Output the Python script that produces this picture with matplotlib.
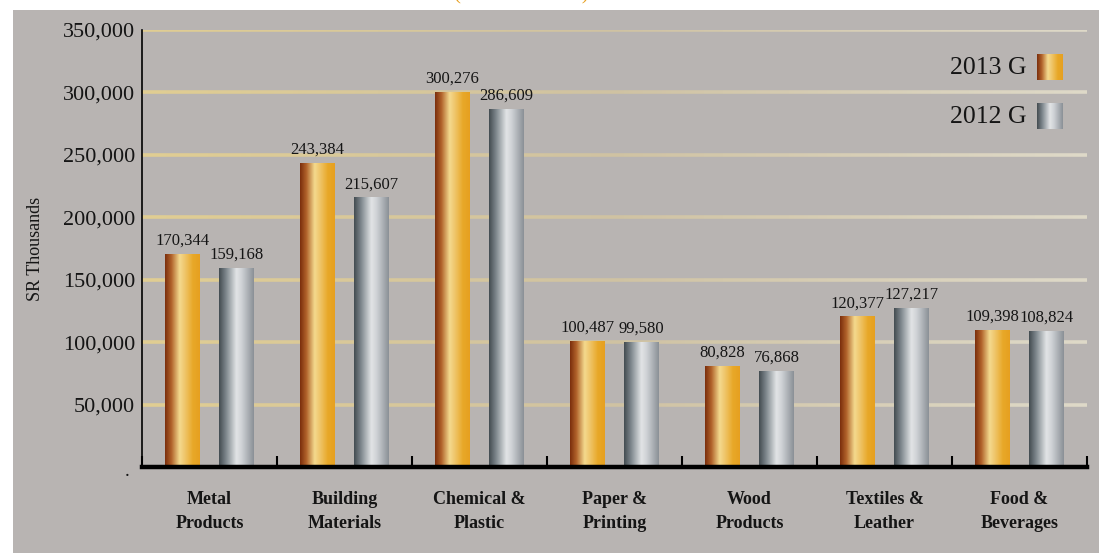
import numpy as np
import matplotlib
matplotlib.use("Agg")
import matplotlib.pyplot as plt
from matplotlib.colors import LinearSegmentedColormap
from matplotlib.collections import LineCollection

categories = ["Metal\nProducts", "Building\nMaterials", "Chemical &\nPlastic", "Paper &\nPrinting",
              "Wood\nProducts", "Textiles &\nLeather", "Food &\nBeverages"]
values_2013 = [170344, 243384, 300276, 100487, 80828, 120377, 109398]
values_2012 = [159168, 215607, 286609, 99580, 76868, 127217, 108824]
series_names = ["2013 G", "2012 G"]
ytick_values = [50000, 100000, 150000, 200000, 250000, 300000, 350000]

BG = "#b8b4b2"
SERIF = ["Liberation Serif", "DejaVu Serif"]

gold_cmap = LinearSegmentedColormap.from_list(
    "gold", [(0, "#7a2e0c"), (0.18, "#b0612a"), (0.42, "#f4da8e"), (0.55, "#f0c870"), (0.8, "#e8a828"), (1, "#e6a020")])
silver_cmap = LinearSegmentedColormap.from_list(
    "silver", [(0, "#434b50"), (0.2, "#7d868c"), (0.5, "#e2e4e6"), (0.65, "#cfd2d6"), (1, "#8a9096")])
grid_cmap = LinearSegmentedColormap.from_list(
    "grid", [(0, "#e0cd92"), (0.5, "#cfc2a2"), (1, "#ded9c8")])

W, H = 1099, 553
fig = plt.figure(figsize=(W / 100, H / 100), dpi=100, facecolor="white")
# gray panel
panel = plt.Rectangle((13 / W, 0), 1 - 13 / W, (H - 10) / H, transform=fig.transFigure,
                      facecolor=BG, edgecolor="none", zorder=-10)
fig.add_artist(panel)

ax = fig.add_axes([142 / W, (H - 467) / H, 945 / W, 437 / H])
ax.set_facecolor("none")
ax.set_xlim(-0.5, len(categories) - 0.5)
ax.set_ylim(0, 350000)

x = np.arange(len(categories))
bw = 0.252
off = 0.2

grad = np.linspace(0, 1, 256).reshape(1, -1)
bars13 = ax.bar(x - off, values_2013, bw, color="none", zorder=3)
bars12 = ax.bar(x + off, values_2012, bw, color="none", zorder=3)
for bars, cmap in ((bars13, gold_cmap), (bars12, silver_cmap)):
    for b in bars:
        x0, y0, w, h = b.get_x(), b.get_y(), b.get_width(), b.get_height()
        ax.imshow(grad, cmap=cmap, extent=(x0, x0 + w, y0, y0 + h), aspect="auto", zorder=3,
                  interpolation="bilinear")
for bars, vals in ((bars13, values_2013), (bars12, values_2012)):
    for b, v in zip(bars, vals):
        ax.annotate(f"{v:,}", (b.get_x() + b.get_width() / 2, v), xytext=(0, 4), textcoords="offset points",
                    ha="center", va="bottom", fontsize=12, family=SERIF, color="#151515", zorder=5)
ax.set_xlim(-0.5, len(categories) - 0.5)
ax.set_ylim(0, 350000)

# gradient gridlines
n = 200
xs = np.linspace(-0.5, len(categories) - 0.5, n + 1)
for yv in ytick_values:
    segs = [[(xs[i], yv), (xs[i + 1], yv)] for i in range(n)]
    lc = LineCollection(segs, colors=grid_cmap(np.linspace(0, 1, n)), linewidths=2.6, zorder=1,
                        capstyle="butt")
    ax.add_collection(lc)

for s in ["top", "right"]:
    ax.spines[s].set_visible(False)
ax.spines["left"].set_linewidth(1.2)
ax.spines["left"].set_color("black")
ax.spines["bottom"].set_linewidth(3.2)
ax.spines["bottom"].set_color("black")
ax.spines["left"].set_zorder(6)
ax.spines["bottom"].set_zorder(6)

ax.set_yticks(ytick_values)
ax.set_yticklabels([f"{v:,}" for v in ytick_values], family=SERIF, fontsize=16, color="#151515")
ax.tick_params(axis="y", length=0, pad=5)
ax.set_xticks(x)
ax.set_xticklabels(categories, family=SERIF, fontsize=13, fontweight="bold", color="#151515",
                   linespacing=1.6)
ax.tick_params(axis="x", length=0, pad=17)
# category boundary ticks (upward)
bounds = np.arange(len(categories) + 1) - 0.5
ax.vlines(bounds, 0, 9000, colors="black", linewidth=1.5, zorder=6, clip_on=False)

ax.text(-0.61, -3500, ".", ha="center", va="center", fontsize=14, family=SERIF, color="#151515")
ax.set_ylabel("SR Thousands", family=SERIF, fontsize=13, color="#151515")
ax.yaxis.set_label_coords(-0.104, 0.5)

# legend
for i, (name, cmap) in enumerate(zip(series_names, (gold_cmap, silver_cmap))):
    top = 54 + i * 49
    lax = fig.add_axes([1037 / W, (H - top - 26) / H, 26 / W, 26 / H])
    lax.imshow(grad, cmap=cmap, aspect="auto", interpolation="bilinear")
    lax.set_axis_off()
    fig.text(1027 / W, (H - top - 14) / H, name, ha="right", va="center", family=SERIF, fontsize=18.5,
             color="#151515")

# truncated title at top
fig.text(521 / W, (H + 1) / H, "(SR Thousands)", ha="center", va="baseline", family=SERIF,
         fontsize=15, color="#e8a020")

fig.savefig("out.png", dpi=100, facecolor="white")
